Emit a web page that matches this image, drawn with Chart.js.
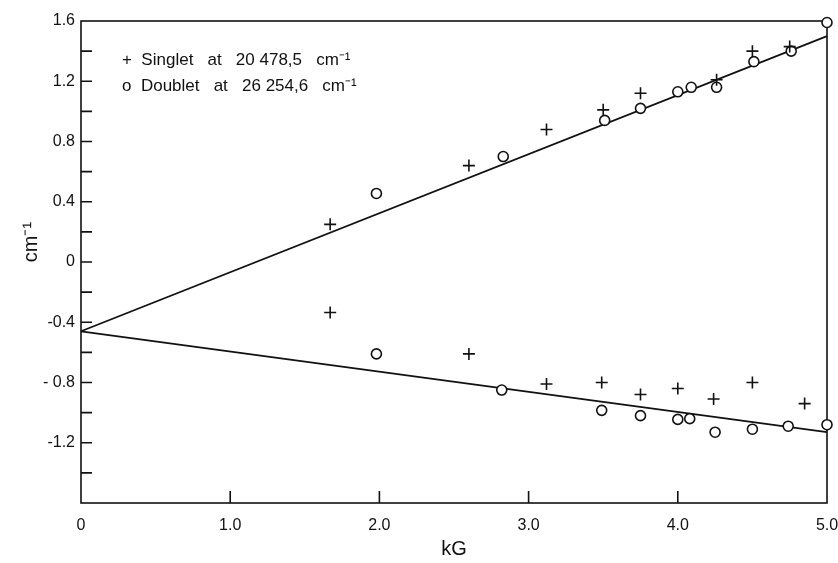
<!DOCTYPE html>
<html><head><meta charset="utf-8">
<script src="https://cdn.jsdelivr.net/npm/chart.js@4.4.0/dist/chart.umd.min.js"></script>
<style>html,body{margin:0;padding:0;background:#fff;}canvas{display:block;}</style>
</head><body>
<canvas id="c" width="838" height="563"></canvas>
<script>
// ---- data (x in kG, y in cm^-1) ----
const singletUpperX = [1.67, 2.60, 3.12, 3.50, 3.75, 4.26, 4.50, 4.75];
const singletUpperY = [0.25, 0.64, 0.88, 1.01, 1.12, 1.21, 1.40, 1.43];
const singletLowerX = [1.67, 2.60, 3.12, 3.49, 3.75, 4.00, 4.24, 4.50, 4.85];
const singletLowerY = [-0.335, -0.61, -0.81, -0.80, -0.88, -0.84, -0.91, -0.80, -0.94];
const doubletUpperX = [1.98, 2.83, 3.51, 3.75, 4.00, 4.09, 4.26, 4.51, 4.76, 5.00];
const doubletUpperY = [0.455, 0.70, 0.94, 1.02, 1.13, 1.16, 1.16, 1.33, 1.40, 1.59];
const doubletLowerX = [1.98, 2.82, 3.49, 3.75, 4.00, 4.08, 4.25, 4.50, 4.74, 5.00];
const doubletLowerY = [-0.61, -0.85, -0.985, -1.02, -1.045, -1.04, -1.13, -1.11, -1.09, -1.08];
const fitX = [0, 5.0];
const fitUpperY = [-0.46, 1.50];
const fitLowerY = [-0.46, -1.13];

const xTickValues = [0, 1, 2, 3, 4, 5];
const xTickLabels = ['0', '1.0', '2.0', '3.0', '4.0', '5.0'];
const yTickValues = [-1.2, -0.8, -0.4, 0, 0.4, 0.8, 1.2, 1.6];
const yTickLabels = ['-1.2', '- 0.8', '-0.4', '0', '0.4', '0.8', '1.2', '1.6'];
const xMinorMarks = [1, 2, 3, 4];
const yMinorMarks = [-1.4, -1.2, -1.0, -0.8, -0.6, -0.4, -0.2, 0, 0.2, 0.4, 0.6, 0.8, 1.0, 1.2, 1.4];
const legendLines = ['+  Singlet   at   20 478,5   cm\u207B\u00B9', 'o  Doublet   at   26 254,6   cm\u207B\u00B9'];
const xTitle = 'kG';
const yTitle = 'cm\u207B\u00B9';

const FONT = '"Liberation Sans", Arial, sans-serif';
const INK = '#111';
function pts(xs, ys) { return xs.map((x, i) => ({ x: x, y: ys[i] })); }

const framePlugin = {
  id: 'frame',
  beforeDatasetsDraw(chart) {
    const ctx = chart.ctx, a = chart.chartArea;
    const xs = chart.scales.x, ys = chart.scales.y;
    ctx.save();
    ctx.strokeStyle = INK; ctx.lineWidth = 1.6;
    ctx.strokeRect(a.left, a.top, a.right - a.left, a.bottom - a.top);
    ctx.beginPath();
    xMinorMarks.forEach(v => { const p = xs.getPixelForValue(v); ctx.moveTo(p, a.bottom); ctx.lineTo(p, a.bottom - 12); });
    yMinorMarks.forEach(v => { const p = ys.getPixelForValue(v); ctx.moveTo(a.left, p); ctx.lineTo(a.left + 11, p); });
    ctx.stroke();
    ctx.restore();
  },
  afterDraw(chart) {
    const ctx = chart.ctx, a = chart.chartArea;
    ctx.save();
    ctx.fillStyle = INK;
    ctx.font = '17px ' + FONT;
    ctx.textBaseline = 'middle';
    ctx.textAlign = 'left';
    ctx.fillText(legendLines[0], 122, 60);
    ctx.fillText(legendLines[1], 122, 86);
    ctx.font = '20px ' + FONT;
    ctx.textAlign = 'center';
    ctx.fillText(xTitle, (a.left + a.right) / 2, 549);
    ctx.translate(31, 242);
    ctx.rotate(-Math.PI / 2);
    ctx.fillText(yTitle, 0, 0);
    ctx.restore();
  }
};

const pointDs = (label, data, style, r) => ({
  type: 'scatter', label: label, data: data, order: 1,
  pointStyle: style, pointRadius: r, pointHoverRadius: r,
  borderColor: INK, backgroundColor: '#fff', pointBorderWidth: 1.6, borderWidth: 1.6,
  clip: false
});
const lineDs = (label, data) => ({
  type: 'line', label: label, data: data, order: 2,
  borderColor: INK, borderWidth: 1.8, pointRadius: 0, fill: false, tension: 0, clip: false
});

new Chart(document.getElementById('c'), {
  data: {
    datasets: [
      lineDs('fit upper', pts(fitX, fitUpperY)),
      lineDs('fit lower', pts(fitX, fitLowerY)),
      pointDs('Singlet (upper)', pts(singletUpperX, singletUpperY), 'cross', 6),
      pointDs('Singlet (lower)', pts(singletLowerX, singletLowerY), 'cross', 6),
      pointDs('Doublet (upper)', pts(doubletUpperX, doubletUpperY), 'circle', 5),
      pointDs('Doublet (lower)', pts(doubletLowerX, doubletLowerY), 'circle', 5)
    ]
  },
  options: {
    responsive: false, animation: false,
    layout: { padding: { top: 21, right: 11, bottom: 0, left: 0 } },
    plugins: { legend: { display: false }, tooltip: { enabled: false } },
    scales: {
      x: {
        type: 'linear', min: 0, max: 5,
        grid: { display: false, drawTicks: false },
        border: { display: false },
        afterBuildTicks: s => { s.ticks = xTickValues.map(v => ({ value: v })); },
        afterFit: s => { s.height = 60; s.paddingLeft = 0; s.paddingRight = 0; },
        ticks: {
          padding: 13, color: INK, font: { size: 16, family: FONT }, maxRotation: 0,
          callback: (v, i) => xTickLabels[xTickValues.indexOf(v)]
        }
      },
      y: {
        type: 'linear', min: -1.6, max: 1.6,
        grid: { display: false, drawTicks: false },
        border: { display: false },
        afterBuildTicks: s => { s.ticks = yTickValues.map(v => ({ value: v })); },
        afterFit: s => { s.width = 81; s.paddingTop = 0; s.paddingBottom = 0; },
        ticks: {
          padding: 6, color: INK, font: { size: 16, family: FONT },
          callback: (v) => yTickLabels[yTickValues.findIndex(t => Math.abs(t - v) < 1e-6)]
        }
      }
    }
  },
  plugins: [framePlugin]
});
</script>
</body></html>
